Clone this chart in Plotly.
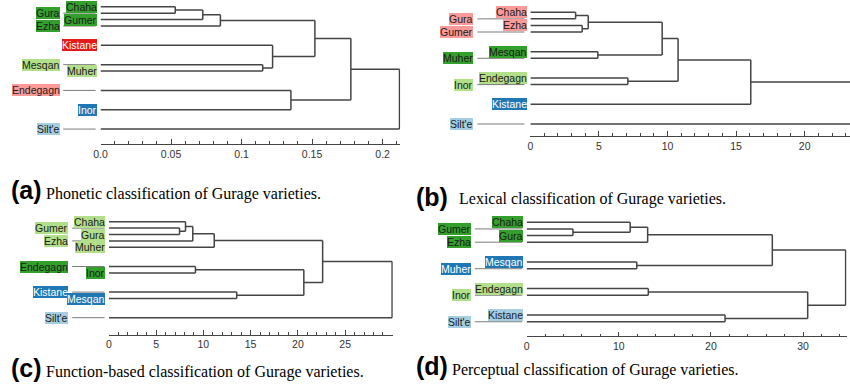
import plotly.graph_objects as go

# ---------------- data ----------------
# colour keys (ColorBrewer "Paired")
PALETTE = {"lb": "#a6cee3", "db": "#1f78b4", "lg": "#b2df8a",
           "dg": "#33a02c", "pk": "#fb9a99", "rd": "#e31a1c"}
TEXTCOL = {"lb": "#1a1a1a", "db": "#ffffff", "lg": "#1a1a1a",
           "dg": "#1a1a1a", "pk": "#1a1a1a", "rd": "#ffffff"}

# (a) Phonetic
a_leaves = ["Chaha", "Gura", "Gumer", "Ezha", "Kistane", "Mesqan", "Muher", "Endegagn", "Inor", "Silt'e"]
a_groups = ["dg", "dg", "dg", "dg", "rd", "lg", "lg", "pk", "db", "lb"]
a_rows = [0, 1, 2, 3, 6, 9, 10, 13, 16, 19]
a_merges = [[0, 1, 0.053], [10, 2, 0.0725], [11, 3, 0.085], [5, 6, 0.115], [4, 13, 0.122],
            [12, 14, 0.152], [7, 8, 0.135], [15, 16, 0.1775], [17, 9, 0.212]]
a_tickvals = [0, 0.05, 0.1, 0.15, 0.2]
a_ticktext = ["0.0", "0.05", "0.1", "0.15", "0.2"]

# (b) Lexical
b_leaves = ["Chaha", "Gura", "Ezha", "Gumer", "Mesqan", "Muher", "Endegagn", "Inor", "Kistane", "Silt'e"]
b_groups = ["pk", "pk", "pk", "pk", "dg", "dg", "lg", "lg", "db", "lb"]
b_rows = [0, 1, 2, 3, 6, 7, 10, 11, 14, 17]
b_merges = [[0, 1, 3.3], [2, 3, 3.78], [10, 11, 4.22], [4, 5, 4.92], [12, 13, 9.61],
            [6, 7, 7.11], [14, 15, 10.77], [16, 8, 16.07], [17, 9, 26.0]]
b_tickvals = [0, 5, 10, 15, 20]
b_ticktext = ["0", "5", "10", "15", "20"]

# (c) Function-based
c_leaves = ["Chaha", "Gumer", "Gura", "Ezha", "Muher", "Endegagn", "Inor", "Kistane", "Mesqan", "Silt'e"]
c_groups = ["lg", "lg", "lg", "lg", "lg", "dg", "dg", "db", "db", "lb"]
c_rows = [0, 1, 2, 3, 4, 7, 8, 11, 12, 15]
c_merges = [[1, 2, 7.48], [0, 10, 8.11], [11, 3, 8.88], [12, 4, 11.15], [5, 6, 9.16],
            [7, 8, 13.53], [14, 15, 20.63], [13, 16, 22.62], [17, 9, 29.97]]
c_tickvals = [0, 5, 10, 15, 20, 25]
c_ticktext = ["0", "5", "10", "15", "20", "25"]

# (d) Perceptual
d_leaves = ["Chaha", "Gumer", "Gura", "Ezha", "Mesqan", "Muher", "Endegagn", "Inor", "Kistane", "Silt'e"]
d_groups = ["dg", "dg", "dg", "dg", "db", "db", "lg", "lg", "lb", "lb"]
d_rows = [0, 1, 2, 3, 6, 7, 10, 11, 14, 15]
d_merges = [[1, 2, 5.02], [0, 10, 11.23], [11, 3, 13.13], [4, 5, 11.95], [12, 13, 26.66],
            [6, 7, 13.2], [8, 9, 21.53], [15, 16, 30.5], [14, 17, 34.62]]
d_tickvals = [0, 10, 20, 30]
d_ticktext = ["0", "10", "20", "30"]

captions_tag = ["(a)", "(b)", "(c)", "(d)"]
captions_text = ["Phonetic classification of Gurage varieties.",
                 "Lexical classification of Gurage varieties.",
                 "Function-based classification of Gurage varieties.",
                 "Perceptual classification of Gurage varieties."]

# ---------------- layout geometry (pixels) ----------------
W, H = 850, 386
panels = [
    dict(leaves=a_leaves, groups=a_groups, rows=a_rows, merges=a_merges, tv=a_tickvals, tt=a_ticktext,
         minor=0.01, x0=94.3, scale=1422.0, xend=396.5, row0=6.7, unit=6.44, axis_y=144.0,
         left_edge=53.3, right_edge=90.7, conn=(56.7, 89.3)),
    dict(leaves=b_leaves, groups=b_groups, rows=b_rows, merges=b_merges, tv=b_tickvals, tt=b_ticktext,
         minor=1, x0=527.7, scale=13.83, xend=850.0, row0=12.3, unit=6.57, axis_y=136.0,
         left_edge=470.0, right_edge=524.0, conn=(474.3, 521.7)),
    dict(leaves=c_leaves, groups=c_groups, rows=c_rows, merges=c_merges, tv=c_tickvals, tt=c_ticktext,
         minor=1, x0=102.7, scale=9.53, xend=389.0, row0=221.7, unit=6.4, axis_y=334.7,
         left_edge=61.7, right_edge=99.3, conn=(65.7, 98.3)),
    dict(leaves=d_leaves, groups=d_groups, rows=d_rows, merges=d_merges, tv=d_tickvals, tt=d_ticktext,
         minor=2, x0=524.0, scale=9.29, xend=846.5, row0=222.3, unit=6.63, axis_y=336.3,
         left_edge=467.7, right_edge=520.7, conn=(471.7, 519.5)),
]
caption_pos = [  # tag x, tag y-center, text x, text y-center
    (2.0, 190.0, 37.0, 193.5),
    (410.0, 196.5, 454.0, 199.0),
    (2.0, 368.0, 37.0, 372.0),
    (410.0, 366.0, 447.0, 370.0),
]

LINE = "#444444"
SANS = "Liberation Sans, Arial, sans-serif"
SERIF = "Liberation Serif, Times New Roman, serif"


def dendro_xy(rows, merges):
    n = len(rows)
    ypos = {i: float(r) for i, r in enumerate(rows)}
    hpos = {i: 0.0 for i in range(n)}
    xs, ys = [], []
    for k, (l, r, h) in enumerate(merges):
        for c in (l, r):
            xs += [hpos[c], h, None]
            ys += [ypos[c], ypos[c], None]
        xs += [h, h, None]
        ys += [ypos[l], ypos[r], None]
        ypos[n + k] = (ypos[l] + ypos[r]) / 2.0
        hpos[n + k] = h
    return xs, ys


fig = go.Figure()
layout = dict(width=W, height=H, margin=dict(l=0, r=0, t=0, b=0), autosize=False,
              paper_bgcolor="white", plot_bgcolor="white", showlegend=False)
shapes, annotations = [], []

for i, p in enumerate(panels):
    k = "" if i == 0 else str(i + 1)
    xa, ya = "x" + k, "y" + k
    xs, ys = dendro_xy(p["rows"], p["merges"])
    fig.add_trace(go.Scatter(x=xs, y=ys, mode="lines", xaxis=xa, yaxis=ya,
                             line=dict(color=LINE, width=1.5), hoverinfo="skip"))
    vmax = (p["xend"] - p["x0"]) / p["scale"]
    top_px = max(0.0, p["row0"] - 1.3 * p["unit"])
    row_bottom = (p["axis_y"] - p["row0"]) / p["unit"]
    row_top = (top_px - p["row0"]) / p["unit"]
    layout["xaxis" + k] = dict(
        domain=[p["x0"] / W, p["xend"] / W], range=[0, vmax], anchor=ya,
        showgrid=False, zeroline=False, showline=True, linecolor=LINE, linewidth=1.2,
        ticks="inside", ticklen=4.5, tickwidth=1.2, tickcolor=LINE,
        tickmode="array", tickvals=p["tv"], ticktext=p["tt"],
        tickfont=dict(family=SANS, size=10.5, color="#333333"),
        minor=dict(tickmode="linear", tick0=0, dtick=p["minor"], ticks="inside",
                   ticklen=2.5, tickwidth=1, tickcolor=LINE, showgrid=False),
        fixedrange=True)
    layout["yaxis" + k] = dict(
        domain=[1 - p["axis_y"] / H, 1 - top_px / H], range=[row_bottom, row_top],
        anchor=xa, visible=False, fixedrange=True)
    for j, (name, g, r) in enumerate(zip(p["leaves"], p["groups"], p["rows"])):
        right_col = (j % 2 == 0)
        if not right_col:
            shapes.append(dict(type="line", xref="paper", yref=ya,
                               x0=p["conn"][0] / W, x1=p["conn"][1] / W, y0=r, y1=r,
                               line=dict(color="#7a7a7a", width=1), layer="below"))
        xr = p["right_edge"] if right_col else p["left_edge"]
        annotations.append(dict(
            text=name, xref="paper", yref=ya, x=xr / W, y=r, xanchor="right", yanchor="middle",
            showarrow=False, bgcolor=PALETTE[g], borderpad=0, borderwidth=0,
            font=dict(family=SANS, size=10.5, color=TEXTCOL[g])))

for (tx, ty, sx, sy), tag, txt in zip(caption_pos, captions_tag, captions_text):
    annotations.append(dict(text="<b>" + tag + "</b>", xref="paper", yref="paper",
                            x=tx / W, y=1 - ty / H, xanchor="left", yanchor="middle",
                            showarrow=False, font=dict(family=SANS, size=25, color="black")))
    annotations.append(dict(text=txt, xref="paper", yref="paper",
                            x=sx / W, y=1 - sy / H, xanchor="left", yanchor="middle",
                            showarrow=False, font=dict(family=SERIF, size=16, color="black")))

layout["shapes"] = shapes
layout["annotations"] = annotations
fig.update_layout(**layout)
fig.write_html("out.html")
